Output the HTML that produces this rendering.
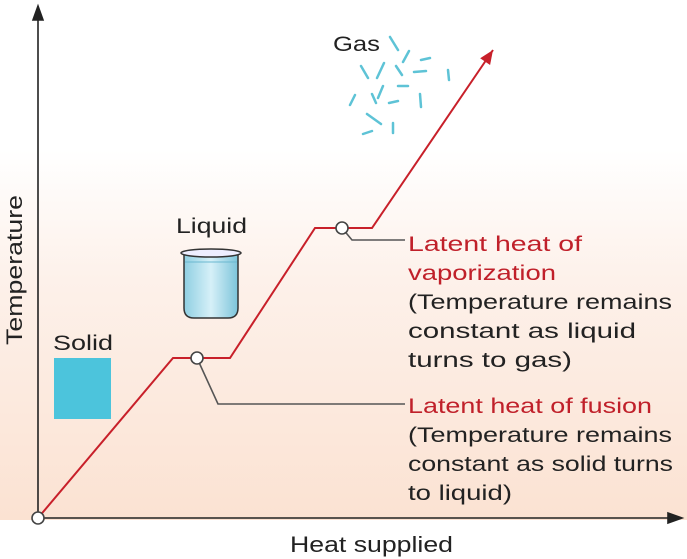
<!DOCTYPE html>
<html><head><meta charset="utf-8"><style>
html,body{margin:0;padding:0;background:#fff}
svg{display:block;font-family:"Liberation Sans",sans-serif}
</style></head><body>
<svg width="687" height="559" viewBox="0 0 687 559">
<defs>
<linearGradient id="bg" x1="0" y1="0" x2="0" y2="1">
<stop offset="0" stop-color="#fff"/><stop offset="0.35" stop-color="#fdf1ea"/><stop offset="1" stop-color="#fbe2d2"/>
</linearGradient>
<linearGradient id="water" x1="0" y1="0" x2="1" y2="0">
<stop offset="0" stop-color="#8fcfe2"/><stop offset="0.5" stop-color="#d6f0f8"/><stop offset="1" stop-color="#7cc4da"/>
</linearGradient>
</defs>
<rect x="0" y="150" width="687" height="370" fill="url(#bg)"/>
<rect x="0" y="0" width="687" height="150" fill="#fff"/>
<g id="axes" stroke="#222" stroke-width="1.6" fill="#222">
<line x1="38" y1="518" x2="38" y2="14"/>
<polygon points="38,6 33,20 43,20"/>
<line x1="38" y1="518" x2="672" y2="518"/>
<polygon points="682,518 668,513 668,523"/>
</g>
<text transform="translate(22,270) rotate(-90)" text-anchor="middle" font-size="22" fill="#222" textLength="150" lengthAdjust="spacingAndGlyphs">Temperature</text>
<text x="290" y="552" font-size="22" fill="#222" textLength="163" lengthAdjust="spacingAndGlyphs">Heat supplied</text>
<g id="series"></g>
<g stroke="#555" stroke-width="1.6" fill="none">
<polyline points="197,358 218,404 405,404"/>
<polyline points="342,228 352,240 405,240"/>
</g>
<g id="markers"></g>
<rect x="54" y="358" width="57" height="61" fill="#4cc4dc"/>
<text x="53" y="350" font-size="21" fill="#222" textLength="60" lengthAdjust="spacingAndGlyphs">Solid</text>
<text x="176" y="233" font-size="21" fill="#222" textLength="71" lengthAdjust="spacingAndGlyphs">Liquid</text>
<g>
<path d="M184,254 L184,308 Q184,318 194,318 L228,318 Q238,318 238,308 L238,254 Z" fill="url(#water)" stroke="#333" stroke-width="1.5"/>
<ellipse cx="211" cy="253" rx="30" ry="4" fill="#eef" stroke="#333" stroke-width="1.5"/>
<line x1="185" y1="262" x2="237" y2="262" stroke="#6bb8d0" stroke-width="1"/>
</g>
<text x="333" y="51" font-size="21" fill="#222" textLength="47" lengthAdjust="spacingAndGlyphs">Gas</text>
<g stroke="#5ec3d6" stroke-width="2.5" stroke-linecap="round">
<line x1="390" y1="37" x2="398" y2="50"/><line x1="409" y1="51" x2="403" y2="62"/><line x1="421" y1="60" x2="430" y2="58"/>
<line x1="361" y1="66" x2="368" y2="78"/><line x1="384" y1="63" x2="377" y2="78"/><line x1="396" y1="66" x2="402" y2="75"/>
<line x1="414" y1="72" x2="426" y2="71"/><line x1="448" y1="70" x2="449" y2="80"/><line x1="383" y1="86" x2="378" y2="98"/>
<line x1="398" y1="86" x2="408" y2="86"/><line x1="355" y1="95" x2="350" y2="105"/><line x1="372" y1="94" x2="376" y2="103"/>
<line x1="389" y1="103" x2="398" y2="101"/><line x1="420" y1="94" x2="421" y2="107"/><line x1="367" y1="114" x2="381" y2="124"/>
<line x1="393" y1="123" x2="393" y2="133"/><line x1="363" y1="134" x2="372" y2="131"/>
</g>
<g font-size="21" lengthAdjust="spacingAndGlyphs">
<text x="408" y="251" fill="#c0202a" textLength="174" lengthAdjust="spacingAndGlyphs">Latent heat  of</text>
<text x="408" y="280" fill="#c0202a" textLength="148" lengthAdjust="spacingAndGlyphs">vaporization</text>
<text x="408" y="309" fill="#222" textLength="264" lengthAdjust="spacingAndGlyphs">(Temperature remains</text>
<text x="408" y="338" fill="#222" textLength="228" lengthAdjust="spacingAndGlyphs">constant as liquid</text>
<text x="408" y="367" fill="#222" textLength="164" lengthAdjust="spacingAndGlyphs">turns to gas)</text>
</g>
<g font-size="21">
<text x="408" y="413" fill="#c0202a" textLength="244" lengthAdjust="spacingAndGlyphs">Latent heat of fusion</text>
<text x="408" y="442" fill="#222" textLength="264" lengthAdjust="spacingAndGlyphs">(Temperature remains</text>
<text x="408" y="471" fill="#222" textLength="265" lengthAdjust="spacingAndGlyphs">constant as solid turns</text>
<text x="408" y="500" fill="#222" textLength="104" lengthAdjust="spacingAndGlyphs">to liquid)</text>
</g>
</svg>
<script>
const heat = [0, 135, 192, 277, 334, 455];
const temperature = [0, 160, 160, 290, 290, 468];
const markerHeat = [0, 159, 304];
const markerTemp = [0, 160, 290];
const xS = v => 38 + v;
const yS = v => 518 - v;
const NS = "http://www.w3.org/2000/svg";
const g = document.getElementById('series');
const line = document.createElementNS(NS, 'polyline');


line.setAttribute('points', heat.map((h, i) => xS(h) + ',' + yS(temperature[i])).join(' '));
line.setAttribute('fill', 'none');
line.setAttribute('stroke', '#c8202a');
line.setAttribute('stroke-width', '2');
g.appendChild(line);
const n = heat.length - 1;
const x1 = xS(heat[n - 1]), y1 = yS(temperature[n - 1]), x2 = xS(heat[n]), y2 = yS(temperature[n]);
const ang = Math.atan2(y2 - y1, x2 - x1);
const L = 14, W = 6;
const bx = x2 - L * Math.cos(ang), by = y2 - L * Math.sin(ang);
const head = document.createElementNS(NS, 'polygon');


head.setAttribute('points', [x2 + ',' + y2,
  (bx + W * Math.sin(ang)) + ',' + (by - W * Math.cos(ang)),
  (bx - W * Math.sin(ang)) + ',' + (by + W * Math.cos(ang))].join(' '));
head.setAttribute('fill', '#c8202a');
g.appendChild(head);
const mg = document.getElementById('markers');
markerHeat.forEach((h, i) => {
  const c = document.createElementNS(NS, 'circle');
  
  
  c.setAttribute('cx', xS(h));
  c.setAttribute('cy', yS(markerTemp[i]));
  c.setAttribute('r', 6);
  c.setAttribute('fill', '#fff');
  c.setAttribute('stroke', '#444');
  c.setAttribute('stroke-width', '1.6');
  mg.appendChild(c);
});
</script>
</body></html>
